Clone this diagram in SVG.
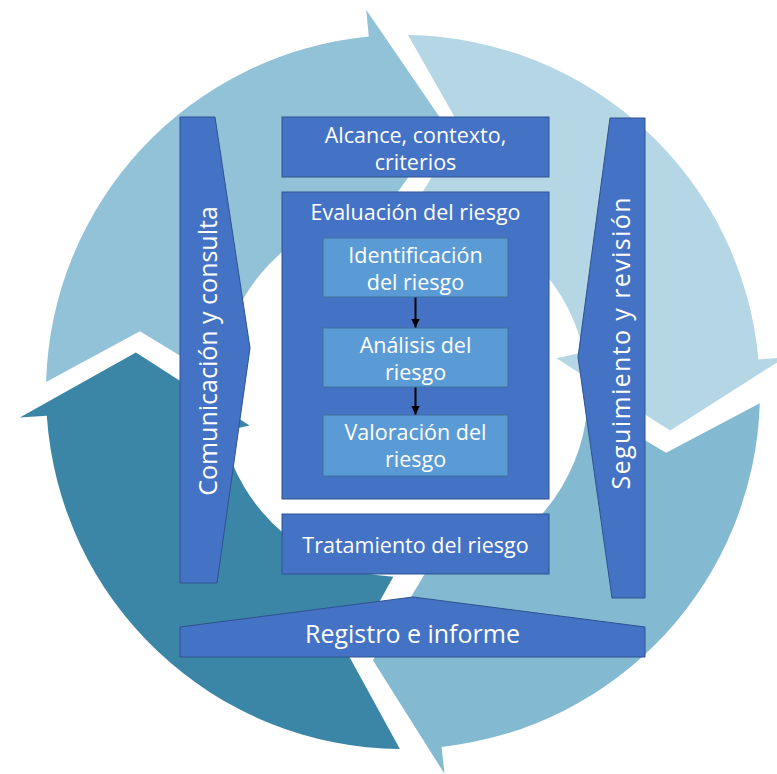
<svg xmlns="http://www.w3.org/2000/svg" width="777" height="774" viewBox="0 0 777 774">
<defs>
<style>
.box{fill:#4472C4;stroke:#2F528F;stroke-width:1}
.sub{fill:#5B9BD5;stroke:#41719C;stroke-width:1}
.t{font-family:"Open Sans","Noto Sans","DejaVu Sans",sans-serif;fill:#FFFFFF;text-anchor:middle}
.m{font-size:21.5px}
.l{font-size:25px}
.conn{stroke:#000000;stroke-width:2;fill:none;marker-end:url(#ah)}
</style>
<marker id="ah" viewBox="0 0 10 10" refX="10" refY="5" markerUnits="userSpaceOnUse" markerWidth="9" markerHeight="9" orient="auto">
<path d="M0,0 L10,5 L0,10 Z" fill="#000000"/>
</marker>
</defs>
<rect width="777" height="774" fill="#FFFFFF"/>
<g id="cycle">
<path id="arc-top-left" fill="#92C2D7" d="M46.1,382.0 A357,357 0 0 1 368.8,36.6 L366.2,9.8 L445.2,125.3 L363.7,240.0 L356.7,212.9 A185,185 0 0 0 218.5,379.1 L139.9,331.3 Z"/>
<path id="arc-top-right" fill="#B4D6E5" d="M408.0,35.0 A357,357 0 0 1 758.5,359.6 L785.4,357.2 L670.2,430.5 L556.3,358.3 L583.7,352.3 A185,185 0 0 0 413.6,207.3 L461.0,128.3 Z"/>
<path id="arc-bottom-right" fill="#84BAD1" d="M759.8,403.2 A357,357 0 0 1 441.6,746.9 L444.5,773.8 L372.9,660.3 L442.8,543.9 L449.9,570.9 A185,185 0 0 0 587.5,405.9 L666.1,452.7 Z"/>
<path id="arc-bottom-left" fill="#3B86A6" d="M399.9,749.0 A357,357 0 0 1 46.8,415.7 L19.8,417.4 L135.9,352.6 L249.6,425.4 L222.2,431.4 A185,185 0 0 0 393.3,576.7 L349.2,656.6 Z"/>
</g>
<g id="comunicacion">
<polygon class="box" points="180,117 215,117 250,348 217,583 180,583"/>
<text class="t l" transform="translate(216.5,351) rotate(-90)">Comunicación y consulta</text>
</g>
<g id="seguimiento">
<polygon class="box" points="610,118 645,118 645,598 612,598 578,357"/>
<text class="t l" transform="translate(630,343.5) rotate(-90)" textLength="292" lengthAdjust="spacing">Seguimiento y revisión</text>
</g>
<g id="alcance">
<rect class="box" x="282" y="117" width="267" height="60"/>
<text class="t m" x="415.5" y="143">Alcance, contexto,</text>
<text class="t m" x="415.5" y="170">criterios</text>
</g>
<g id="evaluacion">
<rect class="box" x="282" y="192" width="267" height="307"/>
<text class="t m" x="415.5" y="220">Evaluación del riesgo</text>
</g>
<g id="identificacion">
<rect class="sub" x="323" y="238" width="185" height="59"/>
<text class="t m" x="415.5" y="263">Identificación</text>
<text class="t m" x="415.5" y="290">del riesgo</text>
</g>
<g id="analisis">
<rect class="sub" x="323" y="328" width="185" height="59"/>
<text class="t m" x="415.5" y="353">Análisis del</text>
<text class="t m" x="415.5" y="380">riesgo</text>
</g>
<g id="valoracion">
<rect class="sub" x="323" y="415" width="185" height="61"/>
<text class="t m" x="415.5" y="440">Valoración del</text>
<text class="t m" x="415.5" y="467">riesgo</text>
</g>
<g id="tratamiento">
<rect class="box" x="282" y="514" width="267" height="60"/>
<text class="t m" x="415.5" y="553">Tratamiento del riesgo</text>
</g>
<g id="registro">
<polygon class="box" points="180,627 413,597 645,627 645,657 180,657"/>
<text class="t l" x="412.5" y="643">Registro e informe</text>
</g>
<g id="connectors">
<line class="conn" x1="415.5" y1="297.5" x2="415.5" y2="327.5"/>
<line class="conn" x1="415.5" y1="387.5" x2="415.5" y2="414.5"/>
</g>
</svg>
